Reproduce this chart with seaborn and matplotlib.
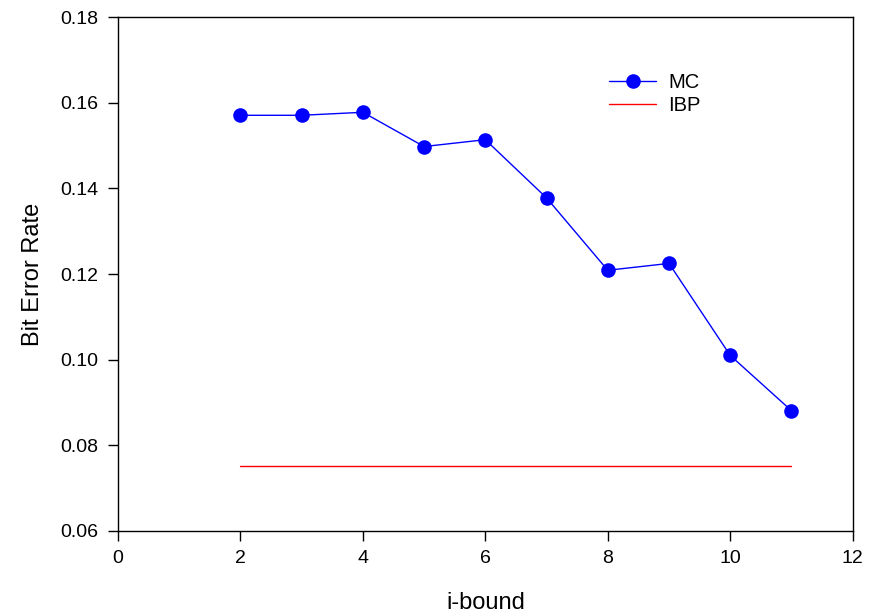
import matplotlib
matplotlib.use("Agg")
import matplotlib.pyplot as plt
import seaborn as sns
import pandas as pd

# i-bound values and bit error rates
i_bound = [2, 3, 4, 5, 6, 7, 8, 9, 10, 11]
mc_ber = [0.1571, 0.1571, 0.1578, 0.1498, 0.1514, 0.1378, 0.1209, 0.1225, 0.1010, 0.0881]
ibp_ber = [0.0751] * len(i_bound)

x_ticks = [0, 2, 4, 6, 8, 10, 12]
y_ticks = [0.06, 0.08, 0.10, 0.12, 0.14, 0.16, 0.18]

sns.set_theme(style="ticks")
plt.rcParams["font.family"] = ["Liberation Sans", "DejaVu Sans"]
plt.rcParams["text.color"] = "black"
plt.rcParams["axes.labelcolor"] = "black"

df = pd.DataFrame({"i-bound": i_bound, "MC": mc_ber, "IBP": ibp_ber})

fig = plt.figure(figsize=(8.8, 6.16), dpi=100)
ax = fig.add_axes([0.134, 0.138, 0.835, 0.834])

sns.lineplot(data=df, x="i-bound", y="MC", ax=ax, color="#0000ff", marker="o",
             markersize=10.5, markeredgewidth=0, linewidth=1.0, label="MC")
sns.lineplot(data=df, x="i-bound", y="IBP", ax=ax, color="#ff0000",
             linewidth=1.0, label="IBP")

ax.set_xlim(0, 12)
ax.set_ylim(0.06, 0.18)
ax.set_xticks(x_ticks)
ax.set_xticklabels([str(t) for t in x_ticks])
ax.set_yticks(y_ticks)
ax.set_yticklabels([f"{t:.2f}" for t in y_ticks])

ax.tick_params(axis="both", direction="out", length=7, width=1, labelsize=14,
               colors="black", labelcolor="black", pad=7)
for side in ["left", "bottom", "top", "right"]:
    ax.spines[side].set_visible(True)
    ax.spines[side].set_color("black")
    ax.spines[side].set_linewidth(1.0)

ax.set_xlabel("i-bound", fontsize=17, labelpad=18)
ax.set_ylabel("Bit Error Rate", fontsize=17, labelpad=12)

leg = ax.legend(loc="upper left", bbox_to_anchor=(0.658, 0.907), frameon=False,
                fontsize=14.5, handlelength=2.3, handletextpad=0.6, labelspacing=0.2,
                borderaxespad=0)
for t in leg.get_texts():
    t.set_color("black")

fig.savefig("out.png", dpi=100, facecolor="white")
